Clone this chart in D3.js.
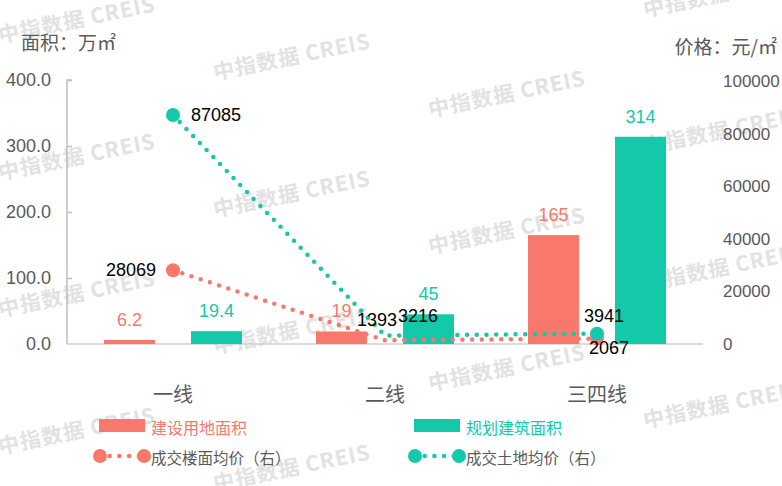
<!DOCTYPE html>
<html><head><meta charset="utf-8">
<script src="https://cdn.jsdelivr.net/npm/d3@7"></script>
<style>html,body{margin:0;padding:0;background:#fff;}svg{display:block;}</style>
</head><body><svg id="c" width="782" height="486"></svg>
<script>
const categories = ["一线", "二线", "三四线"];
const landArea = [6.2, 19, 165];          // 建设用地面积 (万㎡)
const buildArea = [19.4, 45, 314];        // 规划建筑面积 (万㎡)
const floorPrice = [28069, 1393, 2067];   // 成交楼面均价 (元/㎡, 右)
const landPrice = [87085, 3216, 3941];    // 成交土地均价 (元/㎡, 右)
const leftTicks = [0, 100, 200, 300, 400];
const rightTicks = [0, 20000, 40000, 60000, 80000, 100000];
const seriesNames = ["建设用地面积", "规划建筑面积", "成交楼面均价（右）", "成交土地均价（右）"];

const RED = "#f8796b", TEAL = "#13c9a9", GRAY = "#595959";
const FONT = "'Liberation Sans','Noto Sans CJK SC',sans-serif";
const CJK = "'Noto Sans CJK SC','Liberation Sans',sans-serif";

const svg = d3.select("#c");
svg.append("rect").attr("width", 782).attr("height", 486).attr("fill", "#fff");

// watermark
const wm = svg.append("g");
for (let i = 0; i < 4; i++) {
  for (let j = -1; j < 4; j++) {
    const x = 215 * i, y = 43 + 37 * i + 137 * j;
    if (y < -10 || y > 520) continue;
    wm.append("text").attr("transform", `translate(${x},${y}) rotate(-11.5)`)
      .attr("font-family", CJK).attr("font-weight", "bold").attr("font-size", 21)
      .attr("letter-spacing", 1).attr("fill", "#e2e2e2").text("中指数据 CREIS");
  }
}

const x0 = d3.scaleBand().domain(categories).range([67, 703]);
const x1 = d3.scaleBand().domain(["land", "build"]).range([0, x0.bandwidth()])
  .paddingInner(0.414).paddingOuter(0.425);
const yL = d3.scaleLinear().domain([0, 400]).range([344, 80]);
const yR = d3.scaleLinear().domain([0, 100000]).range([344, 81]);

// left axis
const gl = svg.append("g").attr("transform", "translate(67,0)")
  .call(d3.axisLeft(yL).tickValues(leftTicks).tickSize(-5).tickPadding(16).tickFormat(d3.format(".1f")));
gl.select(".domain").attr("stroke", "#bfbfbf").attr("stroke-width", 1.5).attr("d", "M5,80H0V344");
gl.selectAll(".tick line").attr("stroke", "#bfbfbf").attr("stroke-width", 1.5);
gl.selectAll(".tick text").attr("font-family", FONT).attr("font-size", 18).attr("fill", GRAY);
gl.selectAll(".tick").filter(d => d === 0).select("line").remove();

// right axis labels
const gr = svg.append("g").attr("transform", "translate(703,0)")
  .call(d3.axisRight(yR).tickValues(rightTicks).tickSize(0).tickPadding(20).tickFormat(d3.format("d")));
gr.select(".domain").remove();
gr.selectAll(".tick text").attr("font-family", FONT).attr("font-size", 17).attr("fill", GRAY);

// baseline
svg.append("line").attr("x1", 67).attr("x2", 703).attr("y1", yL(0)).attr("y2", yL(0))
  .attr("stroke", "#d0d0d0").attr("stroke-width", 1.5);

// category labels
svg.append("g").selectAll("text").data(categories).join("text")
  .attr("x", d => x0(d) + x0.bandwidth() / 2).attr("y", 393)
  .attr("text-anchor", "middle").attr("dominant-baseline", "central")
  .attr("font-family", CJK).attr("font-size", 20).attr("fill", GRAY).text(d => d);

// axis titles
svg.append("text").attr("x", 21).attr("y", 41).attr("dominant-baseline", "central")
  .attr("font-family", CJK).attr("font-size", 19).attr("fill", GRAY).text("面积：万㎡");
svg.append("text").attr("x", 777).attr("y", 45).attr("text-anchor", "end").attr("dominant-baseline", "central")
  .attr("font-family", CJK).attr("font-size", 19).attr("fill", GRAY).text("价格：元/㎡");

// bars
const barData = [
  { key: "land", vals: landArea, color: RED },
  { key: "build", vals: buildArea, color: TEAL }
];
barData.forEach(s => {
  const g = svg.append("g");
  g.selectAll("rect").data(s.vals).join("rect")
    .attr("x", (d, i) => x0(categories[i]) + x1(s.key))
    .attr("width", x1.bandwidth())
    .attr("y", d => yL(d)).attr("height", d => yL(0) - yL(d))
    .attr("fill", s.color);
  g.selectAll("text").data(s.vals).join("text")
    .attr("x", (d, i) => x0(categories[i]) + x1(s.key) + x1.bandwidth() / 2)
    .attr("y", d => yL(d) - 20).attr("text-anchor", "middle").attr("dominant-baseline", "central")
    .attr("font-family", FONT).attr("font-size", 18).attr("fill", s.color).text(d => d);
});

// lines
const cx = (d, i) => x0(categories[i]) + x0.bandwidth() / 2;
const line = d3.line().x(cx).y(d => yR(d));
// label offsets (position config): [dx, dy, anchor]
const floorLabelPos = [[-17, 0, "end"], [-8, -20, "middle"], [12, 9, "middle"]];
const landLabelPos = [[18, 0, "start"], [33, -20, "middle"], [7, -18, "middle"]];
const lineData = [
  { vals: floorPrice, color: RED, pos: floorLabelPos },
  { vals: landPrice, color: TEAL, pos: landLabelPos }
];
lineData.forEach(s => {
  const g = svg.append("g");
  g.append("path").datum(s.vals).attr("d", line).attr("fill", "none")
    .attr("stroke", s.color).attr("stroke-width", 4.5).attr("stroke-linecap", "round")
    .attr("stroke-dasharray", "0 9.7");
  const n = s.vals.length;
  const ends = s.vals.map((v, i) => ({ v, i })).filter(o => o.i === 0 || o.i === n - 1);
  g.selectAll("circle").data(ends).join("circle")
    .attr("cx", o => cx(o.v, o.i)).attr("cy", o => yR(o.v)).attr("r", 7).attr("fill", s.color);
});
lineData.forEach(s => {
  svg.append("g").selectAll("text").data(s.vals).join("text")
    .attr("x", (d, i) => cx(d, i) + s.pos[i][0])
    .attr("y", (d, i) => yR(d) + s.pos[i][1])
    .attr("text-anchor", (d, i) => s.pos[i][2]).attr("dominant-baseline", "central")
    .attr("font-family", FONT).attr("font-size", 18).attr("fill", "#000").text(d => d);
});

// legend
const leg = svg.append("g");
const legItems = [
  { name: seriesNames[0], type: "bar", color: RED, x: 99, y: 426, textColor: RED },
  { name: seriesNames[1], type: "bar", color: TEAL, x: 414, y: 426, textColor: TEAL },
  { name: seriesNames[2], type: "line", color: RED, x: 99, y: 456, textColor: GRAY },
  { name: seriesNames[3], type: "line", color: TEAL, x: 414, y: 456, textColor: GRAY }
];
legItems.forEach(it => {
  if (it.type === "bar") {
    leg.append("rect").attr("x", it.x).attr("y", it.y - 7).attr("width", 46).attr("height", 13).attr("fill", it.color);
  } else {
    leg.append("line").attr("x1", it.x + 1).attr("x2", it.x + 45).attr("y1", it.y).attr("y2", it.y)
      .attr("stroke", it.color).attr("stroke-width", 4.5).attr("stroke-linecap", "round").attr("stroke-dasharray", "0 9.7");
    leg.append("circle").attr("cx", it.x + 1).attr("cy", it.y).attr("r", 7).attr("fill", it.color);
    leg.append("circle").attr("cx", it.x + 45).attr("cy", it.y).attr("r", 7).attr("fill", it.color);
  }
  leg.append("text").attr("x", it.x + 52).attr("y", it.y + 1).attr("dominant-baseline", "central")
    .attr("font-family", CJK).attr("font-size", it.type === "bar" ? 16 : 15.5)
    .attr("fill", it.textColor).text(it.name);
});
</script></body></html>
